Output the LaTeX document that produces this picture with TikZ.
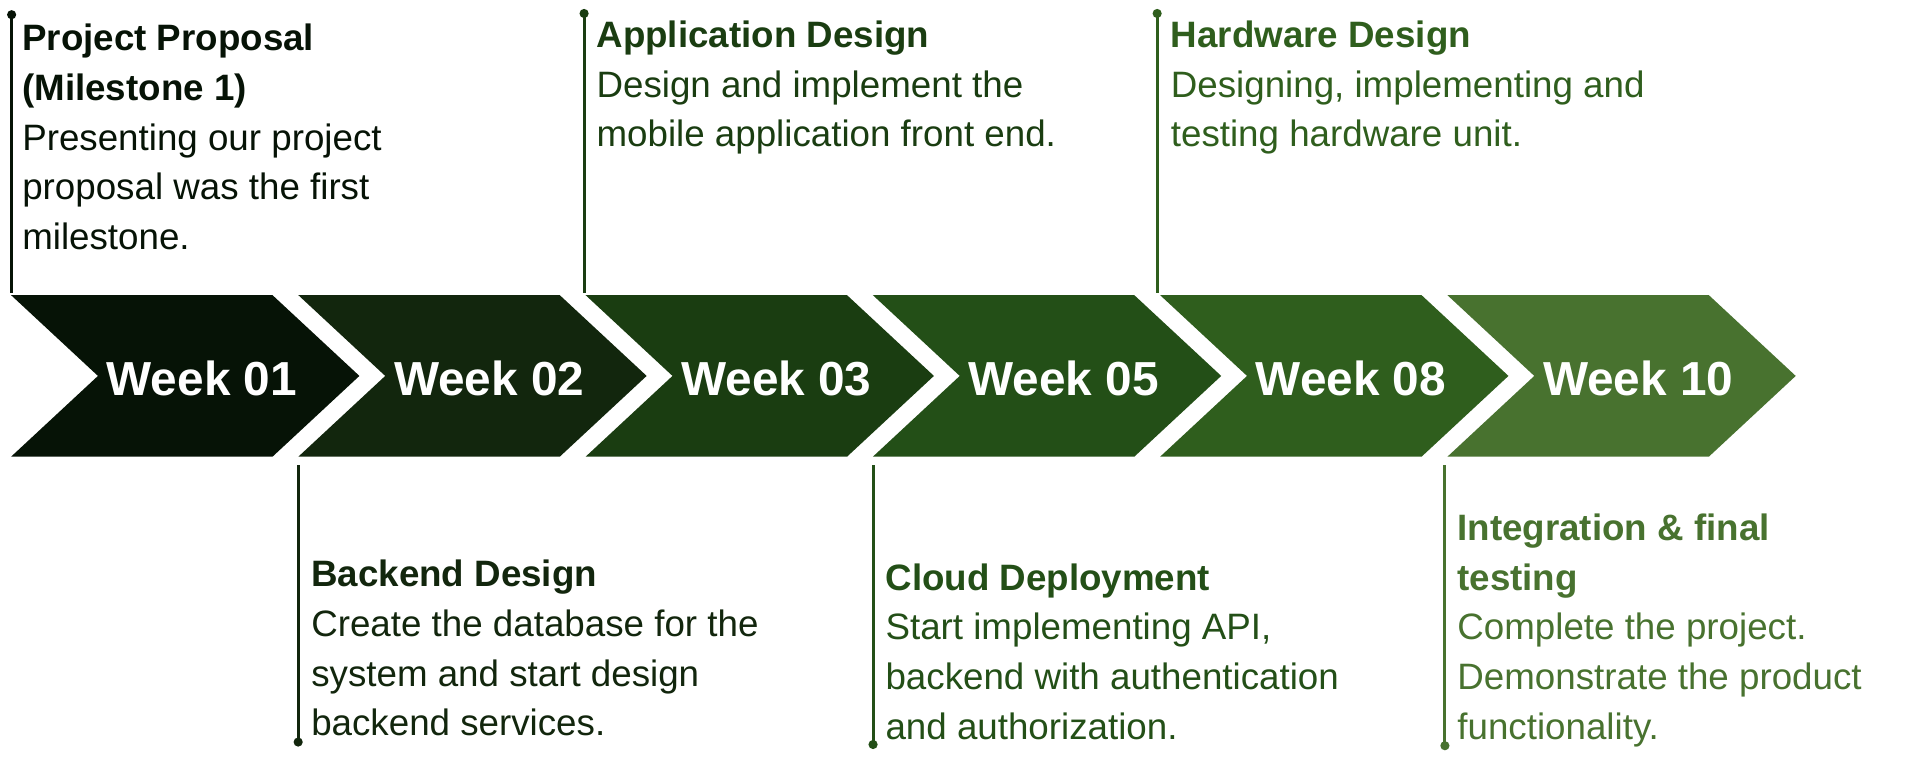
\documentclass[tikz,border=0pt]{standalone}
\usepackage{fontspec}
\setmainfont{Liberation Sans}
\begin{document}
\definecolor{cA}{HTML}{061306}
\definecolor{cB}{HTML}{12260D}
\definecolor{cC}{HTML}{1A3D11}
\definecolor{cD}{HTML}{234F17}
\definecolor{cE}{HTML}{2F5E1D}
\definecolor{cF}{HTML}{48722F}
\begin{tikzpicture}[x=1pt,y=-1pt,
  weeklabel/.style={text=white,font=\fontsize{39}{39}\selectfont\bfseries,inner sep=0,anchor=base west},
  % blocks are placed by the baseline of their last line
  blocktext/.style={inner sep=0,anchor=base west,align=left,font=\fontsize{30}{40.7}\selectfont},
  pin/.style={line width=2.4pt},
  pindot/.style={circle,inner sep=0,minimum size=7.5pt}]
\useasboundingbox (0,0) rectangle (1568,621);

% the six chevrons of the timeline
\foreach \i/\col/\lab in {0/cA/01,1/cB/02,2/cC/03,3/cD/05,4/cE/08,5/cF/10}{
  \pgfmathsetmacro\xl{9+234.6*\i}
  \fill[\col] (\xl,241) -- ++(213.5,0) -- ++(71,66) -- ++(-71,66) -- ++(-213.5,0) -- ++(71,-66) -- cycle;
  \node[weeklabel] (w\lab) at (\xl+78,323) {Week \lab};
  \coordinate (top\i) at (\xl,239);
  \coordinate (bot\i) at (\xl,380);
}

% milestones above the timeline
\node[pindot,fill=cA] (d1) at (9.5,12) {};
\draw[pin,cA] (d1.center) -- (d1.center |- top0);
\node[blocktext,text=cA] (t1) at (18,204) {\bfseries Project Proposal\\\bfseries(Milestone 1)\\Presenting our project\\proposal was the first\\milestone.};

\node[pindot,fill=cC] (d3) at (477,11) {};
\draw[pin,cC] (d3.center) -- (d3.center |- top2);
\node[blocktext,text=cC] (t3) at (487,120) {\bfseries Application Design\\Design and implement the\\mobile application front end.};

\node[pindot,fill=cE] (d5) at (945,11) {};
\draw[pin,cE] (d5.center) -- (d5.center |- top4);
\node[blocktext,text=cE] (t5) at (956,120) {\bfseries Hardware Design\\Designing, implementing and\\testing hardware unit.};

% milestones below the timeline
\node[pindot,fill=cB] (d2) at (243.5,606) {};
\draw[pin,cB] (d2.center) -- (d2.center |- bot1);
\node[blocktext,text=cB] (t2) at (254,601) {\bfseries Backend Design\\Create the database for the\\system and start design\\backend services.};

\node[pindot,fill=cD] (d4) at (713,608) {};
\draw[pin,cD] (d4.center) -- (d4.center |- bot3);
\node[blocktext,text=cD] (t4) at (723,604) {\bfseries Cloud Deployment\\Start implementing API,\\backend with authentication\\and authorization.};

\node[pindot,fill=cF] (d6) at (1180,609) {};
\draw[pin,cF] (d6.center) -- (d6.center |- bot5);
\node[blocktext,text=cF] (t6) at (1190,604) {\bfseries Integration \& final\\\bfseries testing\\Complete the project.\\Demonstrate the product\\functionality.};
\end{tikzpicture}
\end{document}
